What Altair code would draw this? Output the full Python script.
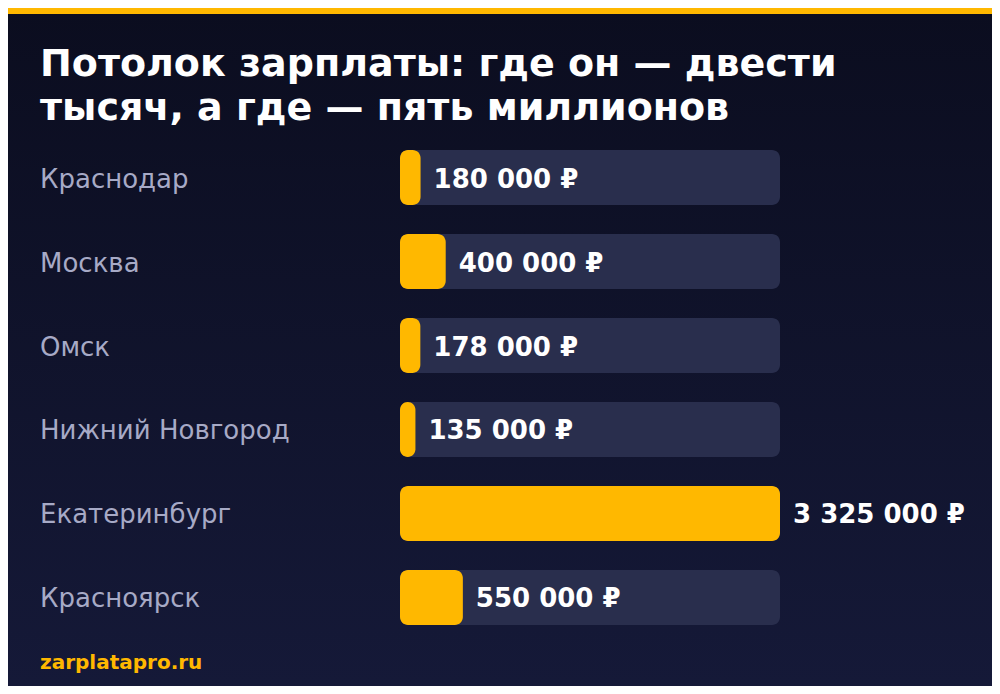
import altair as alt
import pandas as pd

cities = ["Краснодар", "Москва", "Омск", "Нижний Новгород", "Екатеринбург", "Красноярск"]
values = [180000, 400000, 178000, 135000, 3325000, 550000]
labels = ["180 000 ₽", "400 000 ₽", "178 000 ₽", "135 000 ₽", "3 325 000 ₽", "550 000 ₽"]
title_lines = ["Потолок зарплаты: где он — двести", "тысяч, а где — пять миллионов"]
footer = "zarplatapro.ru"

W, H = 984, 678
FONT = "DejaVu Sans"
YELLOW = "#ffb800"
TRACK = "#292e4d"

df = pd.DataFrame({"city": cities, "value": values, "label": labels,
                   "track": [max(values)] * len(values)})

xs = alt.Scale(domain=[0, max(values)], range=[392, 772])
ys = alt.Scale(domain=cities, range=[142, 617], paddingInner=0.345, paddingOuter=0)

bg = alt.Chart(alt.Data(values=[{}])).mark_rect(
    color=alt.LinearGradient(
        gradient="linear",
        stops=[alt.GradientStop(color="#0b0d1f", offset=0),
               alt.GradientStop(color="#151938", offset=1)],
        x1=0, x2=0, y1=0, y2=1),
).encode(x=alt.value(0), x2=alt.value(W), y=alt.value(0), y2=alt.value(H))

strip = alt.Chart(alt.Data(values=[{}])).mark_rect(color=YELLOW).encode(
    x=alt.value(0), x2=alt.value(W), y=alt.value(0), y2=alt.value(6))

def title_line(text, ypos):
    return alt.Chart(alt.Data(values=[{"t": text}])).mark_text(
        font=FONT, fontSize=38, fontWeight="bold", color="white",
        align="left", baseline="alphabetic"
    ).encode(x=alt.value(32), y=alt.value(ypos), text="t:N")

t1 = title_line(title_lines[0], 68)
t2 = title_line(title_lines[1], 112)

base = alt.Chart(df)
track = base.mark_bar(color=TRACK, cornerRadius=8).encode(
    x=alt.X("track:Q", scale=xs, axis=None), x2=alt.datum(0),
    y=alt.Y("city:N", scale=ys, axis=None))
bars = base.mark_bar(color=YELLOW, cornerRadius=8).encode(
    x=alt.X("value:Q", scale=xs, axis=None), x2=alt.datum(0),
    y=alt.Y("city:N", scale=ys, axis=None))
vals = base.mark_text(font=FONT, fontSize=26, fontWeight="bold", color="white",
                      align="left", baseline="middle", dx=13, dy=2).encode(
    x=alt.X("value:Q", scale=xs, axis=None),
    y=alt.Y("city:N", scale=ys, axis=None), text="label:N")
names = base.mark_text(font=FONT, fontSize=26, color="#a7aac6",
                       align="left", baseline="middle", dy=2).encode(
    x=alt.value(32), y=alt.Y("city:N", scale=ys, axis=None), text="city:N")

foot = alt.Chart(alt.Data(values=[{"t": footer}])).mark_text(
    font=FONT, fontSize=20, fontWeight="bold", color=YELLOW, align="left", baseline="alphabetic"
).encode(x=alt.value(32), y=alt.value(661), text="t:N")

chart = alt.layer(bg, strip, t1, t2, track, bars, vals, names, foot).properties(
    width=W, height=H, autosize=alt.AutoSizeParams(type="none"), padding=0,
    background="#10132b"
).configure_view(stroke=None)

chart.save("out.html", embed_options={"renderer": "svg", "actions": False})
